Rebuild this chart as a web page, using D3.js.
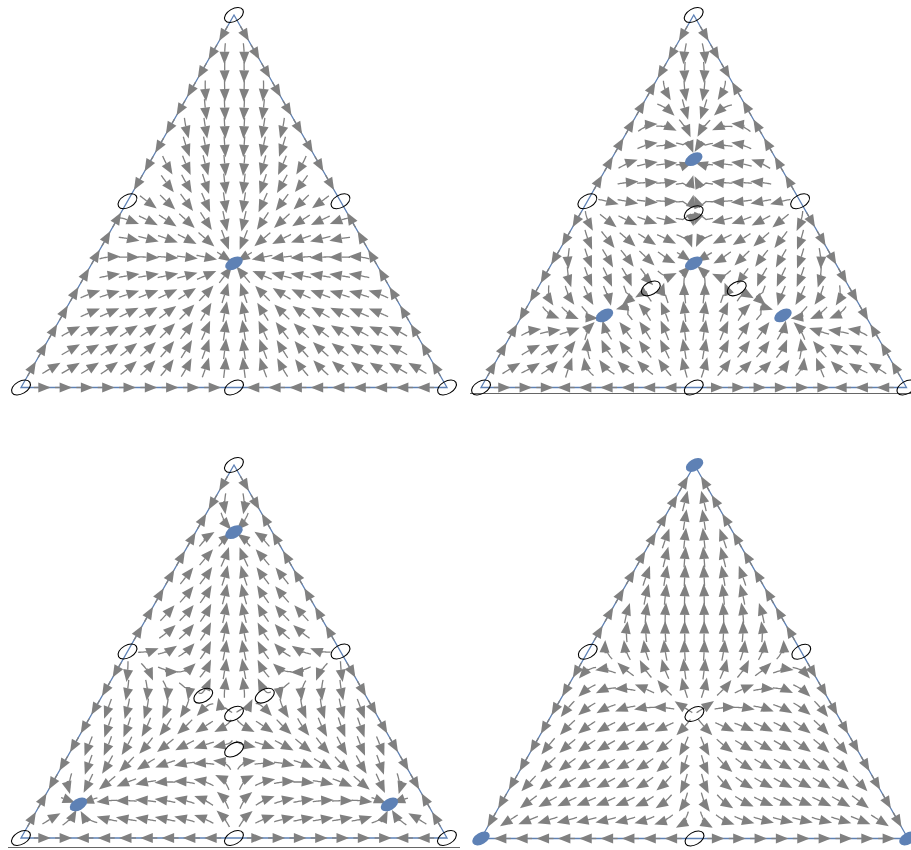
<!DOCTYPE html>
<html><head><meta charset="utf-8">
<script src="https://cdn.jsdelivr.net/npm/d3@7"></script>
<style>body{margin:0;background:#fff}svg{display:block}</style>
</head><body>
<svg id="c" width="911" height="850"></svg>
<script>
// ---------- DATA ----------
// Replicator dynamics x_i' = x_i (g(x_i) - avg)
// payoff g(t) = c1 t + c2 t^2 + c3 t^3 + c4 / (t + shift)
const panelNames = ["A", "B", "C", "D"];
const payoffCoefficients = [
  [0, 0, 0, 1],
  [-1.0346, 2.162, -1.3333, 0],
  [-0.918, 2.114, -1.3333, 0],
  [1, 0, 0, 0]
];
const payoffShift = [0.02, 1, 1, 1];
// rest points (barycentric x1=top, x2=bottom-left, x3=bottom-right)
const restPoints = [
  [[1,0,0],[0,1,0],[0,0,1],[0.5,0.5,0],[0.5,0,0.5],[0,0.5,0.5],[1/3,1/3,1/3]],
  [[1,0,0],[0,1,0],[0,0,1],[0.5,0.5,0],[0.5,0,0.5],[0,0.5,0.5],[1/3,1/3,1/3],
   [0.613,0.1935,0.1935],[0.1935,0.613,0.1935],[0.1935,0.1935,0.613],
   [0.468,0.266,0.266],[0.266,0.468,0.266],[0.266,0.266,0.468]],
  [[1,0,0],[0,1,0],[0,0,1],[0.5,0.5,0],[0.5,0,0.5],[0,0.5,0.5],[1/3,1/3,1/3],
   [0.82,0.09,0.09],[0.09,0.82,0.09],[0.09,0.09,0.82],
   [0.237,0.3815,0.3815],[0.3815,0.237,0.3815],[0.3815,0.3815,0.237]],
  [[1,0,0],[0,1,0],[0,0,1],[0.5,0.5,0],[0.5,0,0.5],[0,0.5,0.5],[1/3,1/3,1/3]]
];
const restStable = [
  [false,false,false,false,false,false,true],
  [false,false,false,false,false,false,true,true,true,true,false,false,false],
  [false,false,false,false,false,false,false,true,true,true,false,false,false],
  [true,true,true,false,false,false,false]
];

// ---------- LAYOUT ----------
const layout = [
  {left:21, right:447, bottom:387.5, top:15},
  {left:481, right:906.5, bottom:387.5, top:15},
  {left:21, right:447, bottom:838, top:465},
  {left:481, right:908, bottom:838.5, top:465}
];
const frameLines = [null, {x1:470,x2:911,y:393.5}, {x1:8,x2:460,y:847.5}, null];
const BLUE = "#5e81b5", GRAY = "#808080";

const svg = d3.select("#c");

panelNames.forEach((name, p) => {
  const L = layout[p];
  const coef = payoffCoefficients[p], eps = payoffShift[p];
  const xs = d3.scaleLinear().domain([0,1]).range([L.left, L.right]);
  const ys = d3.scaleLinear().domain([0,1]).range([L.bottom, L.top]);
  const g = svg.append("g").attr("class","panel-"+name);

  const payoff = t => coef[0]*t + coef[1]*t*t + coef[2]*t*t*t + coef[3]/(t + eps);
  const toXY = b => [xs(b[2] + 0.5*b[0]), ys(b[0])];
  const toBary = (px, py) => {
    const Y = ys.invert(py), X = xs.invert(px);
    const x1 = Y, x3 = X - Y/2;
    return [x1, 1 - x1 - x3, x3];
  };
  const field = b => {
    const f = b.map(payoff);
    const avg = b[0]*f[0] + b[1]*f[1] + b[2]*f[2];
    const d = b.map((v,i) => v*(f[i]-avg));
    const vx = (xs(d[2] + 0.5*d[0]) - xs(0));
    const vy = (ys(d[0]) - ys(0));
    return [vx, vy];
  };
  const dirAt = (px, py) => {
    const v = field(toBary(px, py));
    const s = Math.hypot(v[0], v[1]);
    return s < 1e-9 ? null : [v[0]/s, v[1]/s, s];
  };
  const inside = (px, py, m) => toBary(px, py).every(v => v > m);

  if (frameLines[p]) {
    const F = frameLines[p];
    g.append("line").attr("x1",F.x1).attr("x2",F.x2).attr("y1",F.y).attr("y2",F.y)
      .attr("stroke","#666").attr("stroke-width",1);
  }

  const tri = [[1,0,0],[0,1,0],[0,0,1]].map(toXY);
  g.append("path").attr("d", d3.line()(tri) + "Z")
    .attr("fill","none").attr("stroke",BLUE).attr("stroke-width",1.3);

  const arrows = g.append("g");
  const HL = 12.5, HW = 5;
  function drawArrow(pts, dir) {
    const tip = pts[pts.length-1];
    const base = [tip[0]-dir[0]*HL, tip[1]-dir[1]*HL];
    const sh = pts.filter(q => Math.hypot(q[0]-tip[0], q[1]-tip[1]) > HL);
    sh.push(base);
    if (sh.length > 1) {
      arrows.append("path").attr("d", d3.line()(sh))
        .attr("fill","none").attr("stroke",GRAY).attr("stroke-width",1.3);
    }
    const nx = -dir[1], ny = dir[0];
    const head = [tip, [base[0]+nx*HW, base[1]+ny*HW], [base[0]-nx*HW, base[1]-ny*HW]];
    arrows.append("path").attr("d", d3.line()(head)+"Z").attr("fill",GRAY).attr("stroke","none");
  }

  const eqPix = restPoints[p].map(toXY);
  const nearEq = (px, py, r) => eqPix.some(e => Math.hypot(e[0]-px, e[1]-py) < r);

  const nRows = 20, colStep = 19.4 / (L.right - L.left);
  const LEN = 21, h = 1;
  for (let j = 1; j < nRows; j++) {
    const Y = j / nRows;
    for (let X = colStep/2; X < 1; X += colStep) {
      const px = xs(X), py = ys(Y);
      if (!inside(px, py, 0.022)) continue;
      if (nearEq(px, py, 6)) continue;
      const d0 = dirAt(px, py);
      if (!d0) continue;
      // integrate with a check on sharp turns
      const trace = (sgn, nSteps) => {
        const out = [];
        let q = [px, py], prev = [d0[0], d0[1]];
        for (let k = 0; k < nSteps; k++) {
          const d1 = dirAt(q[0], q[1]); if (!d1) break;
          if (d1[0]*prev[0] + d1[1]*prev[1] < 0.8) break;
          const mid = [q[0]+sgn*d1[0]*h/2, q[1]+sgn*d1[1]*h/2];
          const d2 = dirAt(mid[0], mid[1]); if (!d2) break;
          const nq = [q[0]+sgn*d2[0]*h, q[1]+sgn*d2[1]*h];
          if (!inside(nq[0], nq[1], 0.004)) break;
          if (sgn > 0 && nearEq(nq[0], nq[1], 3)) break;
          out.push(nq); q = nq; prev = [d2[0], d2[1]];
        }
        return out;
      };
      const back = trace(-1, Math.round(LEN*0.45)).reverse();
      const fwd = trace(1, Math.round(LEN*0.55));
      const pts = back.concat([[px,py]], fwd);
      const tip = pts[pts.length-1];
      let d = dirAt(tip[0], tip[1]);
      if (!d) continue;
      if (pts.length > 3) {
        const a = pts[pts.length-3];
        const dx = tip[0]-a[0], dy = tip[1]-a[1], dl = Math.hypot(dx, dy);
        if (dl > 0) d = [dx/dl, dy/dl];
      }
      drawArrow(pts, [d[0], d[1]]);
    }
  }

  const edges = [[1,2],[0,2],[0,1]];
  edges.forEach(([a, b2]) => {
    for (let k = 1; k < 20; k++) {
      const s = k/20;
      const bc = [0,0,0]; bc[a] = 1 - s; bc[b2] = s;
      const [px, py] = toXY(bc);
      if (nearEq(px, py, 9)) continue;
      const v = field(bc);
      const sp = Math.hypot(v[0], v[1]);
      if (sp < 1e-7) continue;
      const d = [v[0]/sp, v[1]/sp];
      const half = 8.5;
      drawArrow([[px - d[0]*half, py - d[1]*half], [px + d[0]*half, py + d[1]*half]], d);
    }
  });

  restPoints[p].forEach((rp, i) => {
    const [ex, ey] = toXY(rp);
    const st = restStable[p][i];
    g.append("ellipse").attr("transform", `translate(${ex},${ey}) rotate(-30)`)
      .attr("rx", st ? 9.5 : 10.3).attr("ry", st ? 5.8 : 6.2)
      .attr("fill", st ? BLUE : "none")
      .attr("stroke", st ? "none" : "#000").attr("stroke-width", 1.1);
  });
});
</script>
</body></html>
